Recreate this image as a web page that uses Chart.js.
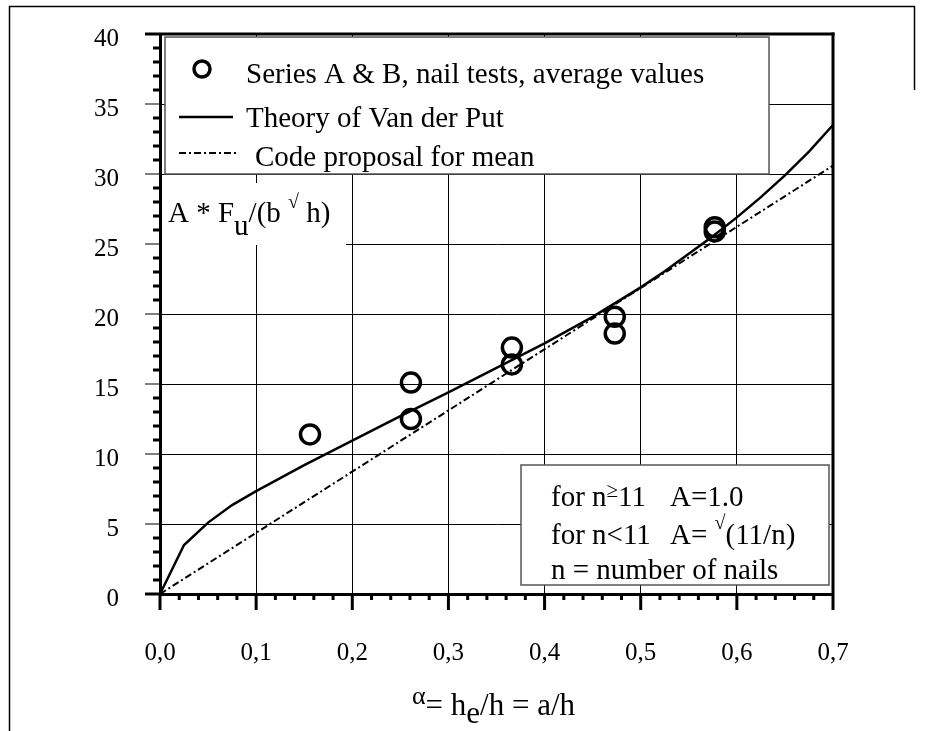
<!DOCTYPE html>
<html>
<head>
<meta charset="utf-8">
<script src="https://cdn.jsdelivr.net/npm/chart.js@4.4.1/dist/chart.umd.min.js"></script>
<style>
  html, body { margin: 0; padding: 0; background: #fff; }
  #wrap { width: 926px; height: 731px; }
</style>
</head>
<body>
<div id="wrap"><canvas id="chart" width="926" height="731"></canvas></div>
<script>
// nail tests, series A & B (alpha, A*Fu/(b*sqrt h))
const testAlpha = [0.156, 0.261, 0.261, 0.366, 0.366, 0.473, 0.473, 0.577, 0.577];
const testValue = [11.4, 15.1, 12.5, 17.6, 16.4, 19.8, 18.6, 26.2, 25.9];

// theory of Van der Put
const theoryAlpha = [0, 0.025, 0.05, 0.075, 0.1, 0.15, 0.2, 0.25, 0.3, 0.35, 0.4, 0.45, 0.5, 0.525, 0.55, 0.575, 0.6, 0.625, 0.65, 0.675, 0.7];
const theoryValue = [0, 3.5, 5.1, 6.35, 7.35, 9.2, 10.95, 12.7, 14.4, 16.15, 17.9, 19.8, 21.9, 23.05, 24.3, 25.55, 26.9, 28.35, 29.9, 31.6, 33.5];

// code proposal for mean
const codeAlpha = [0, 0.7];
const codeValue = [0, 30.6];

const xTickValues = [0, 0.1, 0.2, 0.3, 0.4, 0.5, 0.6, 0.7];
const xTickLabels = ['0,0', '0,1', '0,2', '0,3', '0,4', '0,5', '0,6', '0,7'];
const yTickValues = [0, 5, 10, 15, 20, 25, 30, 35, 40];
const yTickLabels = ['0', '5', '10', '15', '20', '25', '30', '35', '40'];

const FONT = "'Liberation Serif', 'Times New Roman', serif";

function toPoints(xs, ys) {
  return xs.map((x, i) => ({ x: x, y: ys[i] }));
}

// draw a run of text pieces: [text, size, dy]
function runs(ctx, x, y, parts) {
  parts.forEach(p => {
    ctx.font = p[1] + 'px ' + FONT;
    ctx.fillText(p[0], x, y + (p[2] || 0));
    x += ctx.measureText(p[0]).width;
  });
  return x;
}
function runsWidth(ctx, parts) {
  let w = 0;
  parts.forEach(p => {
    ctx.font = p[1] + 'px ' + FONT;
    w += ctx.measureText(p[0]).width;
  });
  return w;
}

function line(ctx, x1, y1, x2, y2, w) {
  ctx.lineWidth = w;
  ctx.beginPath();
  ctx.moveTo(x1, y1);
  ctx.lineTo(x2, y2);
  ctx.stroke();
}

const boxes = {
  id: 'boxes',
  beforeDatasetsDraw(chart) {
    const ctx = chart.ctx;
    const ds = chart.data.datasets;
    ctx.save();
    ctx.fillStyle = '#fff';
    ctx.strokeStyle = '#555';
    ctx.textBaseline = 'alphabetic';

    // legend box
    ctx.fillRect(165, 37, 604, 137);
    ctx.lineWidth = 1.5;
    ctx.strokeRect(165, 37, 604, 137);

    ctx.fillStyle = '#000';
    ctx.strokeStyle = '#000';
    // circle marker
    ctx.lineWidth = 3.5;
    ctx.beginPath();
    ctx.arc(202, 69, 8, 0, Math.PI * 2);
    ctx.stroke();
    runs(ctx, 246, 83, [[ds[0].label, 29]]);
    // solid line sample
    line(ctx, 179, 117, 233, 117, ds[1].borderWidth);
    runs(ctx, 246, 127, [[ds[1].label, 29]]);
    // dash-dot sample
    ctx.setLineDash(ds[2].borderDash);
    line(ctx, 179, 153, 237, 153, ds[2].borderWidth);
    ctx.setLineDash([]);
    runs(ctx, 255, 166, [[ds[2].label, 29]]);

    // y axis label box
    ctx.fillStyle = '#fff';
    ctx.fillRect(162, 183, 184, 62);
    ctx.fillStyle = '#000';
    let x = runs(ctx, 168, 222, [['A * F', 29]]);
    x = runs(ctx, x, 222, [['u', 29, 13]]);
    runs(ctx, x, 222, [['/(b ', 29], ['\u221A', 20, -14], [' h)', 29]]);

    // note box
    ctx.fillStyle = '#fff';
    ctx.strokeStyle = '#555';
    ctx.fillRect(521, 465, 308, 120);
    ctx.lineWidth = 1.5;
    ctx.strokeRect(521, 465, 308, 120);
    ctx.fillStyle = '#000';
    runs(ctx, 551, 506, [['for n', 29], ['\u2265', 21, -9], ['11', 29]]);
    runs(ctx, 670, 506, [['A=1.0', 29]]);
    runs(ctx, 551, 544, [['for n<11', 29]]);
    runs(ctx, 670, 544, [['A= ', 29], ['\u221A', 20, -15], ['(11/n)', 29]]);
    runs(ctx, 551, 579, [['n = number of nails', 29]]);
    ctx.restore();
  }
};

const frame = {
  id: 'frame',
  afterDraw(chart) {
    const ctx = chart.ctx;
    const a = chart.chartArea;
    const sx = chart.scales.x;
    const sy = chart.scales.y;
    ctx.save();
    ctx.strokeStyle = '#000';
    ctx.lineCap = 'butt';

    // top and right frame of the plot
    line(ctx, 145, a.top, a.right + 1.5, a.top, 3);
    line(ctx, a.right, a.top - 1.5, a.right, a.bottom + 16, 3);
    // axis extensions
    line(ctx, 145, a.bottom, a.left, a.bottom, 3);
    line(ctx, a.left, a.bottom, a.left, a.bottom + 16, 3);

    // y ticks, outward
    for (let v = 1; v < 40; v++) {
      const py = sy.getPixelForValue(v);
      if (v % 5 === 0) line(ctx, 145, py, a.left, py, 1);
      else line(ctx, a.left - 7, py, a.left, py, 3);
    }
    // x ticks, downward
    for (let i = 1; i < 35; i++) {
      const px = sx.getPixelForValue(i * 0.02);
      if (i % 5 === 0) line(ctx, px, a.bottom, px, a.bottom + 16, 3);
      else line(ctx, px, a.bottom, px, a.bottom + 6, 3);
    }

    // x axis title
    ctx.fillStyle = '#000';
    ctx.textBaseline = 'alphabetic';
    const parts = [['\u03B1', 26, -11], ['= h', 31], ['e', 31, 8], ['/h = a/h', 31]];
    const w = runsWidth(ctx, parts);
    runs(ctx, (a.left + a.right) / 2 - 3 - w / 2, 715, parts);

    // outer figure frame
    line(ctx, 9.5, 6, 9.5, 731, 1.5);
    line(ctx, 9, 6.5, 915, 6.5, 1.5);
    line(ctx, 914.5, 6, 914.5, 90, 1.5);
    ctx.restore();
  }
};

new Chart(document.getElementById('chart'), {
  type: 'scatter',
  data: {
    datasets: [
      {
        label: 'Series A & B, nail tests, average values',
        data: toPoints(testAlpha, testValue),
        showLine: false,
        pointStyle: 'circle',
        pointRadius: 9.5,
        pointHoverRadius: 9.5,
        borderWidth: 3.5,
        borderColor: '#000',
        backgroundColor: 'rgba(0,0,0,0)'
      },
      {
        label: 'Theory of Van der Put',
        data: toPoints(theoryAlpha, theoryValue),
        showLine: true,
        borderColor: '#000',
        borderWidth: 2.5,
        pointRadius: 0,
        tension: 0,
        fill: false
      },
      {
        label: 'Code proposal for mean',
        data: toPoints(codeAlpha, codeValue),
        showLine: true,
        borderColor: '#000',
        borderWidth: 2,
        borderDash: [7, 3, 2, 3],
        pointRadius: 0,
        fill: false
      }
    ]
  },
  options: {
    responsive: false,
    animation: false,
    devicePixelRatio: 1,
    layout: { padding: { top: 34, right: 93, left: 0, bottom: 0 } },
    plugins: {
      legend: { display: false },
      tooltip: { enabled: false }
    },
    scales: {
      x: {
        type: 'linear',
        min: 0,
        max: 0.7,
        afterBuildTicks: s => { s.ticks = xTickValues.map(v => ({ value: v })); },
        afterFit: s => {
          s.height = 137;
          s.paddingLeft = 0;
          s.paddingRight = 0;
        },
        ticks: {
          callback: (v, i) => xTickLabels[i],
          font: { family: FONT, size: 25 },
          color: '#000',
          padding: 44,
          maxRotation: 0,
          autoSkip: false
        },
        grid: { color: '#000', lineWidth: 1, drawTicks: false },
        border: { color: '#000', width: 3 }
      },
      y: {
        type: 'linear',
        min: 0,
        max: 40,
        afterBuildTicks: s => { s.ticks = yTickValues.map(v => ({ value: v })); },
        afterFit: s => {
          s.width = 160;
          s.paddingTop = 0;
          s.paddingBottom = 0;
        },
        ticks: {
          callback: (v, i) => yTickLabels[i],
          font: { family: FONT, size: 25 },
          color: '#000',
          padding: 41,
          labelOffset: 5
        },
        grid: { color: '#000', lineWidth: 1, drawTicks: false },
        border: { color: '#000', width: 3 }
      }
    }
  },
  plugins: [boxes, frame]
});
</script>
</body>
</html>
